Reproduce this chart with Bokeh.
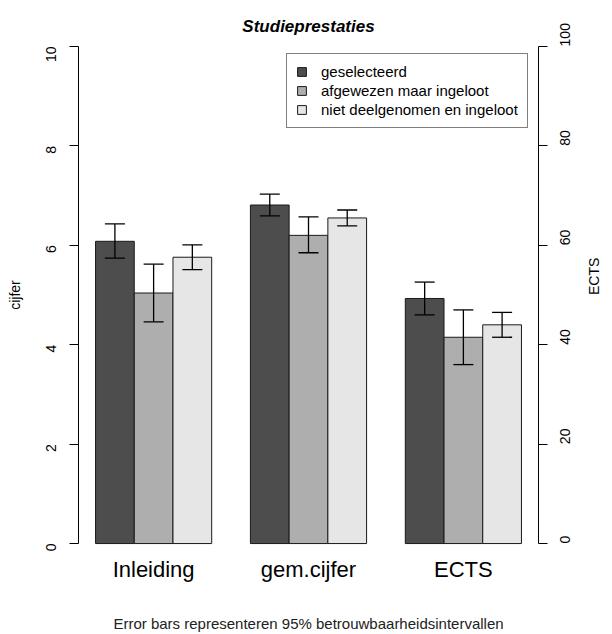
import math
from bokeh.plotting import figure
from bokeh.models import (Range1d, LinearAxis, FixedTicker, Whisker, ColumnDataSource,
                          Legend, LegendItem, TeeHead)
from bokeh.embed import file_html
from bokeh.resources import INLINE

# ---------------- data ----------------
groups = ["Inleiding", "gem.cijfer", "ECTS"]
series = ["geselecteerd", "afgewezen maar ingeloot", "niet deelgenomen en ingeloot"]
colors = ["#4D4D4D", "#AEAEAE", "#E6E6E6"]

# means: Inleiding, gem.cijfer (cijfer 0-10), ECTS (0-100)
geselecteerd = [6.08, 6.81, 49.3]
afgewezen = [5.04, 6.20, 41.5]
niet_deelgenomen = [5.76, 6.55, 44.0]

# 95% confidence intervals
geselecteerd_lo = [5.74, 6.59, 46.0]
geselecteerd_hi = [6.43, 7.03, 52.6]
afgewezen_lo = [4.46, 5.85, 36.0]
afgewezen_hi = [5.62, 6.57, 47.0]
niet_lo = [5.51, 6.39, 41.5]
niet_hi = [6.01, 6.71, 46.5]

cijfer_ticks = [0, 2, 4, 6, 8, 10]
ects_ticks = [0, 20, 40, 60, 80, 100]

title = "Studieprestaties"
note = "Error bars representeren 95% betrouwbaarheidsintervallen"

means = [geselecteerd, afgewezen, niet_deelgenomen]
los = [geselecteerd_lo, afgewezen_lo, niet_lo]
his = [geselecteerd_hi, afgewezen_hi, niet_hi]

FONT = "Liberation Sans"

# layout like R barplot(beside=TRUE): bar width 1, gap 1 between groups
n_s = len(series)
group_step = n_s + 1
centers = [2 + group_step * g for g in range(len(groups))]

def xpos(g, s):
    return centers[g] + (s - (n_s - 1) / 2)

p = figure(width=612, height=634,
           x_range=Range1d(0.06, 11.94), y_range=Range1d(-0.2, 10.2),
           x_axis_type=None, y_axis_type=None,
           output_backend="svg", toolbar_location=None,
           min_border_left=78, min_border_right=73, min_border_top=36, min_border_bottom=80)
p.extra_y_ranges = {"ects": Range1d(-2, 102)}
p.outline_line_color = None
p.background_fill_color = "white"
p.border_fill_color = "white"

p.title.text = title
p.title.align = "center"
p.title.text_font = FONT
p.title.text_font_size = "17px"
p.title.text_font_style = "bold italic"
p.title.text_color = "black"
p.title.standoff = 2

head = dict(size=20, line_color="black", line_width=1.3)
legend_renderers = []
for s in range(n_s):
    # cijfer groups (first two) on the left scale
    xs = [xpos(g, s) for g in range(2)]
    src = ColumnDataSource(dict(x=xs, top=means[s][:2], lo=los[s][:2], hi=his[s][:2]))
    r = p.vbar(x="x", top="top", bottom=0, width=1, source=src,
               fill_color=colors[s], line_color="#1a1a1a", line_width=1)
    legend_renderers.append(r)
    p.add_layout(Whisker(source=src, base="x", lower="lo", upper="hi",
                         line_color="black", line_width=1.3,
                         upper_head=TeeHead(**head), lower_head=TeeHead(**head),
                         level="overlay"))
    # ECTS group on the right scale
    src2 = ColumnDataSource(dict(x=[xpos(2, s)], top=[means[s][2]], lo=[los[s][2]], hi=[his[s][2]]))
    p.vbar(x="x", top="top", bottom=0, width=1, source=src2, y_range_name="ects",
           fill_color=colors[s], line_color="#1a1a1a", line_width=1)
    p.add_layout(Whisker(source=src2, base="x", lower="lo", upper="hi", y_range_name="ects",
                         line_color="black", line_width=1.3,
                         upper_head=TeeHead(**head), lower_head=TeeHead(**head),
                         level="overlay"))

# axes
yl = LinearAxis(ticker=FixedTicker(ticks=cijfer_ticks), bounds=(0, 10), axis_label="cijfer")
yr = LinearAxis(ticker=FixedTicker(ticks=ects_ticks), bounds=(0, 100), y_range_name="ects",
                axis_label="ECTS")
for ax in (yl, yr):
    ax.major_tick_out = 9
    ax.major_tick_in = 0
    ax.minor_tick_out = 0
    ax.minor_tick_in = 0
    ax.major_label_orientation = math.pi / 2
    ax.major_label_standoff = 18
    ax.major_label_text_font = FONT
    ax.major_label_text_font_size = "14px"
    ax.major_label_text_color = "black"
    ax.axis_line_color = "black"
    ax.major_tick_line_color = "black"
    ax.axis_label_text_font = FONT
    ax.axis_label_text_font_size = "14px"
    ax.axis_label_text_font_style = "normal"
    ax.axis_label_text_color = "black"
yl.axis_label_standoff = 16
yr.axis_label_standoff = 15
if "axis_label_orientation" in yr.properties():
    yr.axis_label_orientation = math.pi / 2
p.add_layout(yl, "left")
p.add_layout(yr, "right")

xb = LinearAxis(ticker=FixedTicker(ticks=centers),
                major_label_overrides={c: g for c, g in zip(centers, groups)},
                axis_label=note)
xb.axis_line_color = None
xb.major_tick_out = 0
xb.major_tick_in = 0
xb.minor_tick_out = 0
xb.minor_tick_in = 0
xb.major_label_standoff = 3
xb.major_label_text_font = FONT
xb.major_label_text_font_size = "22px"
xb.major_label_text_color = "black"
xb.axis_label_text_font = FONT
xb.axis_label_text_font_size = "15px"
xb.axis_label_text_font_style = "normal"
xb.axis_label_text_color = "#222222"
xb.axis_label_standoff = 30
p.add_layout(xb, "below")

legend = Legend(items=[LegendItem(label=s, renderers=[r]) for s, r in zip(series, legend_renderers)],
                location=(208, 425))
legend.border_line_color = "black"
legend.border_line_width = 1
legend.background_fill_color = "white"
legend.background_fill_alpha = 1
legend.padding = 9
legend.spacing = 2
legend.margin = 0
legend.label_standoff = 14
legend.glyph_width = 11
legend.glyph_height = 11
legend.label_height = 16
legend.label_text_font = FONT
legend.label_text_font_size = "15px"
legend.label_text_color = "black"
p.add_layout(legend)

open("out.html", "w").write(file_html(p, INLINE))
